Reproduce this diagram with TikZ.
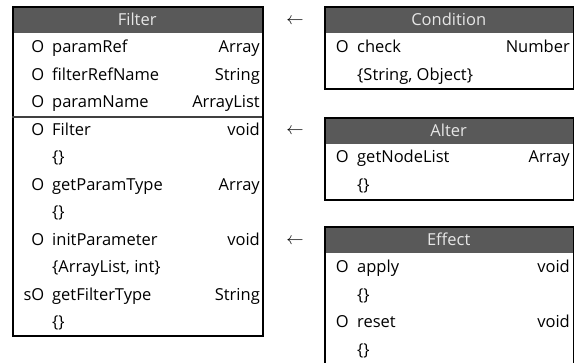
\documentclass[tikz,border=0pt]{standalone}
\usepackage{fontspec}
\setmainfont{Open Sans}
\usepackage{tikz}

\definecolor{titlegray}{HTML}{595959}
\definecolor{titletext}{HTML}{E6E6E6}
\definecolor{membertext}{HTML}{000000}

\tikzset{
  classbox/.style={draw=black, line width=2pt, anchor=north west, inner sep=0pt},
  titlebar/.style={fill=titlegray, text=titletext, anchor=north west, inner sep=0pt, minimum height=27pt},
  vis/.style={anchor=base east, inner sep=0pt, text=membertext},
  member/.style={anchor=base west, inner sep=0pt, text=membertext},
  mtype/.style={anchor=base east, inner sep=0pt, text=membertext},
  sepline/.style={draw=black!75, line width=1.5pt}
}

\begin{document}
\begin{tikzpicture}[x=1pt, y=-1pt, font=\fontsize{16.5}{20}\selectfont]
  \useasboundingbox (0,0) rectangle (574,363);

  % Filter
  \node (filterhead) [titlebar, minimum width=250pt] at (12,6) {Filter};
  \node (filter) [classbox, minimum width=250pt, minimum height=329pt] at (12,6) {};
  \draw [sepline] (12,117) -- (262,117);
  \node (f1v) [vis] at (44.5,53) {O};
  \node (f1) [member] at (52,53) {paramRef};
  \node (f1t) [mtype] at (260,53) {Array};
  \node (f2v) [vis] at (44.5,80.5) {O};
  \node (f2) [member] at (52,80.5) {filterRefName};
  \node (f2t) [mtype] at (260,80.5) {String};
  \node (f3v) [vis] at (44.5,108) {O};
  \node (f3) [member] at (52,108) {paramName};
  \node (f3t) [mtype] at (260,108) {ArrayList};
  \node (f4v) [vis] at (44.5,135.5) {O};
  \node (f4) [member] at (52,135.5) {Filter};
  \node (f4t) [mtype] at (260,135.5) {void};
  \node (f4a) [member] at (52,163) {\{\}};
  \node (f5v) [vis] at (44.5,190.5) {O};
  \node (f5) [member] at (52,190.5) {getParamType};
  \node (f5t) [mtype] at (260,190.5) {Array};
  \node (f5a) [member] at (52,218) {\{\}};
  \node (f6v) [vis] at (44.5,245.5) {O};
  \node (f6) [member] at (52,245.5) {initParameter};
  \node (f6t) [mtype] at (260,245.5) {void};
  \node (f6a) [member] at (52,273) {\{ArrayList, int\}};
  \node (f7v) [vis] at (44.5,300.5) {sO};
  \node (f7) [member] at (52,300.5) {getFilterType};
  \node (f7t) [mtype] at (260,300.5) {String};
  \node (f7a) [member] at (52,328) {\{\}};

  % Condition
  \node (condhead) [titlebar, minimum width=249pt] at (324,6) {Condition};
  \node (cond) [classbox, minimum width=249pt, minimum height=82pt] at (324,6) {};
  \node (c1v) [vis] at (349,53) {O};
  \node (c1) [member] at (357,53) {check};
  \node (c1t) [mtype] at (570,53) {Number};
  \node (c1a) [member] at (357,80.5) {\{String, Object\}};

  % Alter
  \node (alterhead) [titlebar, minimum width=249pt] at (324,117) {Alter};
  \node (alter) [classbox, minimum width=249pt, minimum height=82pt] at (324,117) {};
  \node (a1v) [vis] at (349,163) {O};
  \node (a1) [member] at (357,163) {getNodeList};
  \node (a1t) [mtype] at (570,163) {Array};
  \node (a1a) [member] at (357,190.5) {\{\}};

  % Effect
  \node (effecthead) [titlebar, minimum width=249pt] at (324,226) {Effect};
  \node (effect) [classbox, minimum width=249pt, minimum height=142pt] at (324,226) {};
  \node (e1v) [vis] at (349,273) {O};
  \node (e1) [member] at (357,273) {apply};
  \node (e1t) [mtype] at (570,273) {void};
  \node (e1a) [member] at (357,300.5) {\{\}};
  \node (e2v) [vis] at (349,328) {O};
  \node (e2) [member] at (357,328) {reset};
  \node (e2t) [mtype] at (570,328) {void};
  \node (e2a) [member] at (357,355.5) {\{\}};

  % arrows
  \node (arrcond) at (295,21) {$\leftarrow$};
  \node (arralter) at (295,131) {$\leftarrow$};
  \node (arreffect) at (295,241.5) {$\leftarrow$};
\end{tikzpicture}
\end{document}
